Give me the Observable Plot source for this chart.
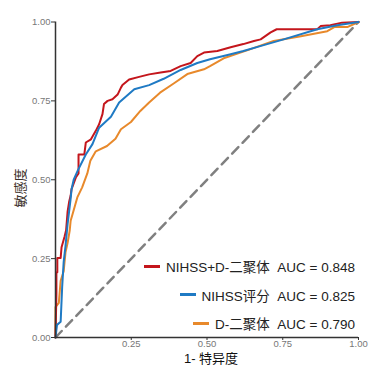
<!DOCTYPE html>
<html>
<head>
<meta charset="utf-8">
<script src="https://cdn.jsdelivr.net/npm/d3@7"></script>
<script src="https://cdn.jsdelivr.net/npm/@observablehq/plot@0.6"></script>
<style>
  html, body { margin: 0; padding: 0; background: #fff; }
  #wrap { position: relative; width: 386px; height: 369px; font-family: "Liberation Sans", Arial, "Noto Sans CJK SC", sans-serif; }
  #wrap svg { position: absolute; left: 0; top: 0; }
  .ytitle { position: absolute; left: 19px; top: 188px; transform: translate(-50%, -50%) rotate(-90deg); font-size: 13px; color: #3a2f28; white-space: nowrap; }
  .xtitle { position: absolute; left: 211px; top: 357px; transform: translate(-50%, -50%); font-size: 13px; color: #111; white-space: pre; }
  #legend { position: absolute; right: 31px; top: 251.75px; }
  .row { height: 28.5px; display: flex; justify-content: flex-end; align-items: center; font-size: 13.5px; color: #222; white-space: pre; }
  .key { width: 16px; height: 3px; margin-right: 6px; }
</style>
</head>
<body>
<div id="wrap"></div>
<script>
// ROC curves: [1 - specificity, sensitivity]
const combo = [
  [0,0],[0.003,0.14],[0.003,0.207],[0.006,0.207],[0.006,0.252],[0.017,0.252],[0.02,0.286],
  [0.03,0.32],[0.035,0.34],[0.04,0.40],[0.045,0.43],[0.05,0.45],[0.053,0.47],[0.067,0.507],
  [0.076,0.52],[0.076,0.58],[0.095,0.58],[0.1,0.618],[0.117,0.628],[0.133,0.655],[0.144,0.676],
  [0.155,0.708],[0.16,0.74],[0.172,0.75],[0.188,0.755],[0.205,0.77],[0.216,0.792],[0.221,0.80],
  [0.243,0.818],[0.276,0.826],[0.309,0.834],[0.347,0.84],[0.38,0.845],[0.413,0.86],[0.446,0.87],
  [0.468,0.892],[0.49,0.903],[0.534,0.908],[0.578,0.92],[0.62,0.93],[0.655,0.94],[0.677,0.945],
  [0.71,0.967],[0.73,0.977],[0.864,0.977],[0.875,0.987],[0.907,0.99],[0.946,0.998],[1,1]
];
const nihss = [
  [0,0],[0.005,0.04],[0.017,0.05],[0.022,0.16],[0.027,0.24],[0.033,0.29],[0.04,0.36],
  [0.05,0.44],[0.053,0.47],[0.06,0.50],[0.073,0.528],[0.1,0.58],[0.122,0.613],[0.144,0.665],
  [0.183,0.70],[0.21,0.745],[0.26,0.787],[0.309,0.80],[0.357,0.82],[0.413,0.848],[0.468,0.87],
  [0.51,0.882],[0.578,0.898],[0.62,0.908],[0.67,0.922],[0.753,0.945],[0.864,0.977],[0.93,0.99],[1,1]
];
const ddimer = [
  [0,0],[0,0.096],[0.011,0.11],[0.017,0.18],[0.027,0.21],[0.033,0.27],[0.04,0.30],[0.047,0.34],
  [0.05,0.37],[0.056,0.39],[0.072,0.444],[0.088,0.476],[0.105,0.52],[0.115,0.56],[0.133,0.59],
  [0.17,0.607],[0.198,0.63],[0.216,0.66],[0.249,0.683],[0.28,0.718],[0.309,0.745],[0.345,0.776],
  [0.39,0.805],[0.435,0.835],[0.49,0.85],[0.51,0.86],[0.555,0.885],[0.61,0.903],[0.644,0.914],
  [0.72,0.94],[0.81,0.955],[0.897,0.971],[0.92,0.984],[0.963,0.984],[1,1]
];
const diagonal = [[0,0],[1,1]];
const seriesNames = ["NIHSS+D-二聚体", "NIHSS评分", "D-二聚体"];
const aucValues = ["0.848", "0.825", "0.790"];
const seriesColors = ["#C4161C", "#1F7AC4", "#E8892B"];
const xTicks = [0.25, 0.5, 0.75, 1];
const yTicks = [0, 0.25, 0.5, 0.75, 1];
const xTitle = "1- 特异度";
const yTitle = "敏感度";

const chart = Plot.plot({
  width: 386, height: 369,
  marginLeft: 55, marginRight: 28, marginTop: 21.5, marginBottom: 32,
  style: { fontFamily: "Liberation Sans, Arial, sans-serif", fontSize: "9.5px", background: "transparent" },
  x: { domain: [0, 1] },
  y: { domain: [0, 1] },
  marks: [
    Plot.line(diagonal, { x: d => d[0], y: d => d[1], stroke: "#808080", strokeWidth: 2.5, strokeDasharray: "9,6" }),
    Plot.line(ddimer, { x: d => d[0], y: d => d[1], stroke: seriesColors[2], strokeWidth: 2 }),
    Plot.line(combo, { x: d => d[0], y: d => d[1], stroke: seriesColors[0], strokeWidth: 2 }),
    Plot.line(nihss, { x: d => d[0], y: d => d[1], stroke: seriesColors[1], strokeWidth: 2 }),
    Plot.axisY(yTicks, { tickFormat: d3.format(".2f"), tickSize: 4, tickPadding: 1, stroke: "#333", fill: "#777", label: null }),
    Plot.axisX(xTicks, { tickFormat: d3.format(".2f"), tickSize: 3, tickPadding: 0, stroke: "#333", fill: "#777", label: null }),
    Plot.ruleX([0], { stroke: "#333", strokeWidth: 1.5 }),
    Plot.ruleY([0], { stroke: "#333", strokeWidth: 1.5 })
  ]
});

const wrap = document.getElementById("wrap");
wrap.appendChild(chart);

const yt = document.createElement("div");
yt.className = "ytitle"; yt.textContent = yTitle; wrap.appendChild(yt);
const xt = document.createElement("div");
xt.className = "xtitle"; xt.textContent = xTitle; wrap.appendChild(xt);

const legend = document.createElement("div");
legend.id = "legend";
seriesNames.forEach((name, i) => {
  const row = document.createElement("div");
  row.className = "row";
  const key = document.createElement("span");
  key.className = "key"; key.style.background = seriesColors[i];
  const txt = document.createElement("span");
  txt.textContent = name + "  AUC = " + aucValues[i];
  row.appendChild(key); row.appendChild(txt);
  legend.appendChild(row);
});
wrap.appendChild(legend);
</script>
</body>
</html>
